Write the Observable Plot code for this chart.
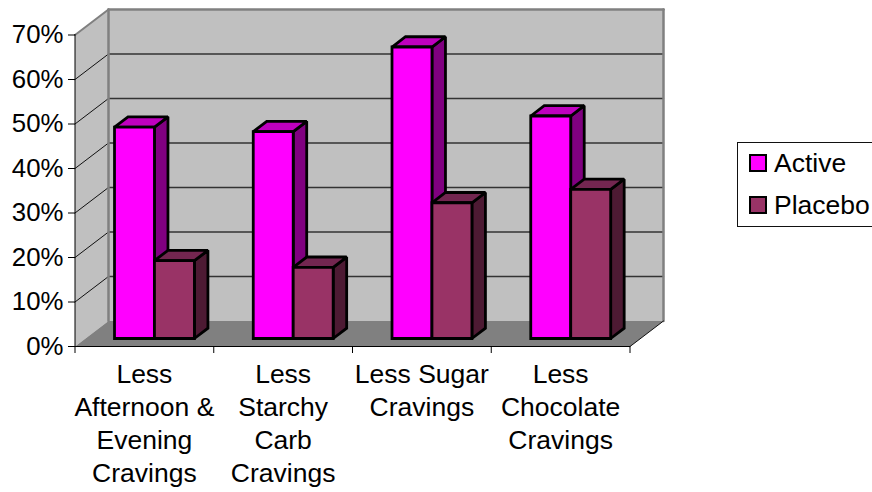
<!DOCTYPE html>
<html>
<head>
<meta charset="utf-8">
<script src="https://cdn.jsdelivr.net/npm/d3@7"></script>
<script src="https://cdn.jsdelivr.net/npm/@observablehq/plot@0.6"></script>
<style>
  html, body { margin: 0; padding: 0; background: #fff; overflow: hidden; }
  #chart { position: relative; width: 872px; height: 492px; font-family: "Liberation Sans", Arial, sans-serif; color: #000; }
  #legend { position: absolute; left: 737px; top: 142px; width: 150px; height: 85px; box-sizing: border-box;
            border: 1px solid #111; background: #fff; font-size: 26.5px; }
  .entry { position: absolute; left: 11px; display: flex; align-items: center; height: 30px; }
  .swatch { width: 14px; height: 14px; border: 2.5px solid #000; margin-right: 7px; }
</style>
</head>
<body>
<div id="chart">
  <div id="legend"></div>
</div>
<script>
// Craving reductions reported per group
const categories = [
  "Less\nAfternoon &\nEvening\nCravings",
  "Less\nStarchy\nCarb\nCravings",
  "Less Sugar\nCravings",
  "Less\nChocolate\nCravings"
];
const active = [47.5, 46.5, 65.5, 50];
const placebo = [17.5, 16, 30.5, 33.5];
const yTicks = [0, 10, 20, 30, 40, 50, 60, 70];

// Oblique projection: one unit of depth shifts a point right and up, in data units.
const depthX = 33.5 / 138.75;
const depthY = 25.5 / 4.45;
const project = (x, y, d) => ({x: x + d * depthX, y: y + d * depthY});

// Bar layout inside a category slot, and its extent along the depth axis.
const barWidth = 0.288;
const nearDepth = 0.314;
const farDepth = 0.717;
const slotOffset = 0.5 - barWidth - nearDepth * depthX + 0.0727;

const xMax = categories.length;
const yMax = d3.max(yTicks);
const labelSize = 26.5;

const polygon = (points, fill, options = {}) =>
  Plot.line(points, {x: "x", y: "y", curve: "linear-closed", fill, stroke: "none", ...options});
const edge = (points, stroke, strokeWidth) =>
  Plot.line(points, {x: "x", y: "y", stroke, strokeWidth});

// The walls and floor of the box behind the bars.
const wallMarks = [
  polygon([project(0, 0, 0), project(0, yMax, 0), project(0, yMax, 1), project(0, 0, 1)], "#c0c0c0"),
  polygon([project(0, 0, 1), project(0, yMax, 1), project(xMax, yMax, 1), project(xMax, 0, 1)], "#c0c0c0"),
  polygon([project(0, 0, 0), project(0, 0, 1), project(xMax, 0, 1), project(xMax, 0, 0)], "#808080"),
  ...yTicks.slice(1, -1).flatMap((t) => [
    edge([project(0, t, 0), project(0, t, 1)], "#111", 1),
    edge([project(0, t, 1), project(xMax, t, 1)], "#333", 1.4)
  ]),
  edge([project(0, yMax, 0), project(0, yMax, 1)], "#808080", 2),
  edge([project(0, 0, 1), project(0, yMax, 1)], "#808080", 2.5),
  edge([project(0, yMax, 1), project(xMax, yMax, 1)], "#808080", 2.5),
  edge([project(xMax, yMax, 1), project(xMax, 0, 1)], "#808080", 2.5),
  edge([project(xMax, 0, 1), project(xMax, 0, 0)], "#111", 1)
];

// One cuboid: side and top faces first, front face last.
function bar(x0, value, colors) {
  const x1 = x0 + barWidth;
  const stroke = {stroke: "#000", strokeWidth: 2.8, strokeLinejoin: "miter", strokeMiterlimit: 2};
  return [
    polygon([project(x1, 0, nearDepth), project(x1, value, nearDepth), project(x1, value, farDepth), project(x1, 0, farDepth)], colors.side, stroke),
    polygon([project(x0, value, nearDepth), project(x0, value, farDepth), project(x1, value, farDepth), project(x1, value, nearDepth)], colors.top, stroke),
    polygon([project(x0, 0, nearDepth), project(x0, value, nearDepth), project(x1, value, nearDepth), project(x1, 0, nearDepth)], colors.front, stroke)
  ];
}

const activeColors = {front: "#ff00ff", top: "#bf00bf", side: "#800080"};
const placeboColors = {front: "#993366", top: "#732650", side: "#4d1a33"};

const barMarks = categories.flatMap((_, i) => [
  ...bar(i + slotOffset, active[i], activeColors),
  ...bar(i + slotOffset + barWidth, placebo[i], placeboColors)
]);

const plot = Plot.plot({
  width: 872,
  height: 492,
  marginLeft: 75,
  marginRight: 242,
  marginTop: 34,
  marginBottom: 146,
  style: {background: "transparent", fontFamily: "'Liberation Sans', Arial, sans-serif", color: "#000"},
  x: {domain: [0, xMax], range: [74.5, 629.5]},
  y: {domain: [0, yMax], range: [346, 34.5]},
  marks: [
    ...wallMarks,
    ...barMarks,
    Plot.ruleX([0], {stroke: "#000", strokeWidth: 1}),
    Plot.ruleY([0], {stroke: "#000", strokeWidth: 1}),
    Plot.axisY({
      ticks: yTicks,
      tickFormat: (d) => `${d}%`,
      tickSize: 7,
      tickPadding: 5,
      fontSize: 25.8,
      label: null,
      stroke: "#000",
      strokeOpacity: 1
    }),
    Plot.axisX({
      ticks: d3.range(xMax + 1),
      tickFormat: () => "",
      tickSize: 7,
      label: null,
      stroke: "#000",
      strokeOpacity: 1
    }),
    Plot.text(categories, {
      x: (_, i) => i + 0.5,
      y: () => 0,
      text: (d) => d,
      dy: 13,
      lineAnchor: "top",
      lineHeight: 33 / labelSize,
      fontSize: labelSize,
      textAnchor: "middle",
      fill: "#000"
    })
  ]
});

const chart = document.getElementById("chart");
chart.insertBefore(plot, chart.firstChild);

// Legend box to the right of the plot
const legend = d3.select("#legend");
[["Active", activeColors.front, 5], ["Placebo", placeboColors.front, 47]].forEach(([name, color, top]) => {
  const entry = legend.append("div").attr("class", "entry").style("top", `${top}px`);
  entry.append("span").attr("class", "swatch").style("background", color);
  entry.append("span").text(name);
});
</script>
</body>
</html>
